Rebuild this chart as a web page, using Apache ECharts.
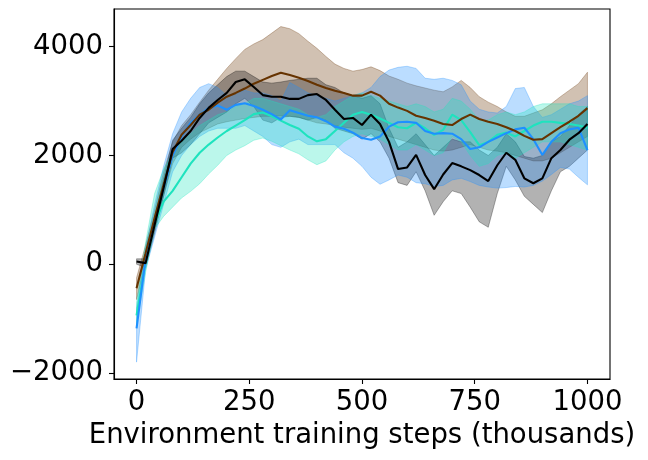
<!DOCTYPE html>
<html>
<head>
<meta charset="utf-8">
<script src="https://cdn.jsdelivr.net/npm/echarts@6/dist/echarts.min.js"></script>
<style>
  html, body { margin: 0; padding: 0; background: #fff; }
  #chart { width: 648px; height: 460px; }
</style>
</head>
<body>
<div id="chart"></div>
<script>
// training steps (thousands), one reading every 20k
var steps = [0, 20, 40, 60, 80, 100, 120, 140, 160, 180, 200, 220, 240, 260, 280, 300, 320, 340, 360, 380,
             400, 420, 440, 460, 480, 500, 520, 540, 560, 580, 600, 620, 640, 660, 680, 700, 720, 740, 760, 780,
             800, 820, 840, 860, 880, 900, 920, 940, 960, 980, 1000];

var xTicks = [0, 250, 500, 750, 1000];
var yTicks = [-2000, 0, 2000, 4000];

// brown run
var brownMean = [-440, 200, 850, 1460, 2060, 2380, 2560, 2750, 2840, 2970, 3080, 3150, 3230, 3320, 3390, 3460, 3520, 3480, 3430, 3370,
                 3300, 3240, 3190, 3150, 3100, 3100, 3170, 3100, 2950, 2880, 2820, 2730, 2690, 2640, 2580, 2560, 2670, 2750, 2670, 2620,
                 2580, 2520, 2450, 2360, 2290, 2300, 2410, 2520, 2620, 2730, 2870];
var brownHigh = [-250, 350, 1000, 1700, 2250, 2550, 2750, 2980, 3200, 3400, 3600, 3780, 3950, 4050, 4130, 4250, 4370, 4330, 4240, 4100,
                 3970, 3820, 3680, 3600, 3550, 3580, 3630, 3560, 3460, 3400, 3330, 3280, 3240, 3200, 3170, 3260, 3380, 3250, 3080, 2980,
                 2900, 2800, 2720, 2720, 2780, 2840, 2950, 3080, 3200, 3320, 3530];
var brownLow = [-650, 0, 650, 1250, 1850, 2150, 2300, 2420, 2500, 2580, 2620, 2650, 2680, 2700, 2720, 2720, 2730, 2720, 2700, 2650,
                2600, 2580, 2550, 2520, 2500, 2480, 2500, 2450, 2350, 2300, 2250, 2200, 2150, 2100, 2080, 2100, 2150, 2200, 2150, 2100,
                2080, 2050, 2000, 1950, 1900, 1900, 1950, 2050, 2150, 2250, 2350];

// black run
var blackMean = [50, 20, 720, 1400, 2120, 2270, 2450, 2690, 2875, 3020, 3150, 3350, 3400, 3260, 3110, 3080, 3080, 3040, 3040, 3110,
                 3130, 3020, 2840, 2670, 2690, 2560, 2750, 2580, 2250, 1750, 1780, 2010, 1640, 1380, 1650, 1860, 1800, 1730, 1640, 1530,
                 1820, 2050, 1920, 1580, 1490, 1580, 1950, 2100, 2290, 2410, 2580];
var blackHigh = [100, 100, 880, 1580, 2280, 2500, 2700, 2950, 3150, 3300, 3450, 3550, 3550, 3450, 3350, 3330, 3350, 3380, 3400, 3420,
                 3420, 3300, 3250, 3150, 3100, 3050, 3100, 2950, 2500, 2150, 2250, 2400, 2200, 2000, 2150, 2300, 2250, 2250, 2100, 2000,
                 2150, 2400, 2250, 1980, 1950, 2000, 2250, 2350, 2550, 2750, 2900];
var blackLow = [0, -60, 570, 1250, 1950, 2050, 2200, 2400, 2600, 2700, 2800, 2950, 3050, 2900, 2650, 2600, 2700, 2720, 2700, 2650,
                2700, 2650, 2500, 2450, 2400, 2300, 2400, 2250, 1950, 1500, 1450, 1700, 1350, 900, 1150, 1350, 1300, 1050, 780, 680,
                1300, 1800, 1550, 1250, 1100, 950, 1350, 1700, 1800, 1950, 2100];

// blue run
var blueMean = [-1180, 100, 780, 1400, 2000, 2350, 2600, 2750, 2870, 2920, 2840, 2930, 2960, 2910, 2840, 2760, 2660, 2830, 2780, 2730,
                2700, 2630, 2530, 2490, 2420, 2320, 2290, 2350, 2530, 2610, 2620, 2600, 2450, 2400, 2410, 2400, 2300, 2120, 2150, 2250,
                2330, 2410, 2480, 2510, 2300, 2010, 2250, 2410, 2480, 2510, 2100];
var blueHigh = [-800, 300, 1100, 1800, 2400, 2800, 3050, 3250, 3320, 3250, 3100, 3150, 3200, 3150, 3150, 3100, 3000, 3340, 3250, 3150,
                3100, 3050, 3000, 3050, 3100, 3150, 3250, 3450, 3570, 3620, 3640, 3600, 3420, 3400, 3420, 3380, 3300, 3000, 2850, 2800,
                2780, 2900, 3230, 3250, 2900, 2700, 2750, 2850, 2950, 3000, 3100];
var blueLow = [-1800, -100, 500, 1100, 1700, 2000, 2200, 2350, 2450, 2500, 2500, 2500, 2550, 2450, 2350, 2200, 2150, 2250, 2300, 2200,
               2200, 2200, 2200, 2050, 1950, 1800, 1600, 1470, 1550, 1640, 1600, 1500, 1480, 1430, 1450, 1550, 1580, 1520, 1450, 1420,
               1400, 1410, 1430, 1420, 1450, 1530, 1650, 1780, 1750, 1600, 1460];

// turquoise run
var turqMean = [-940, 50, 750, 1150, 1350, 1600, 1850, 2050, 2200, 2330, 2450, 2550, 2650, 2760, 2790, 2720, 2640, 2560, 2490, 2350,
                2260, 2300, 2450, 2600, 2750, 2800, 2750, 2680, 2600, 2520, 2500, 2600, 2500, 2380, 2470, 2750, 2650, 2430, 2190, 2250,
                2380, 2420, 2350, 2450, 2550, 2620, 2620, 2600, 2580, 2550, 2510];
var turqHigh = [-700, 400, 1300, 1750, 2050, 2250, 2400, 2550, 2650, 2750, 2800, 2900, 2950, 3050, 3050, 3000, 2950, 2900, 2850, 2750,
                2700, 2750, 2900, 3000, 3100, 3150, 3100, 3050, 3000, 2950, 2900, 2950, 2900, 2800, 2850, 3050, 3000, 2850, 2650, 2650,
                2750, 2800, 2750, 2800, 2900, 2950, 2950, 2950, 2950, 2900, 2900];
var turqLow = [-1100, -150, 650, 880, 1050, 1220, 1340, 1480, 1660, 1820, 2000, 2100, 2180, 2280, 2320, 2260, 2180, 2100, 2030, 1920,
               1830, 1900, 2100, 2250, 2350, 2400, 2350, 2300, 2200, 2100, 2100, 2200, 2100, 2000, 2050, 2350, 2250, 2000, 1800, 1850,
               2000, 2050, 1950, 2050, 2150, 2250, 2250, 2250, 2200, 2150, 2100];

var FONT = "DejaVu Sans";

function pairs(vals) {
    return steps.map(function (s, i) { return [s, vals[i]]; });
}

// shaded band: one polygon, upper edge left->right then lower edge back
function band(id, low, high, rgba) {
    return {
        name: id + "-band",
        type: "custom",
        coordinateSystem: "cartesian2d",
        silent: true,
        z: 1,
        encode: { x: 0, y: 1 },
        data: [[steps[0], low[0]]],
        renderItem: function (params, api) {
            var pts = [];
            for (var i = 0; i < steps.length; i++) pts.push(api.coord([steps[i], high[i]]));
            for (var j = steps.length - 1; j >= 0; j--) pts.push(api.coord([steps[j], low[j]]));
            return {
                type: "polygon",
                shape: { points: pts },
                style: { fill: rgba, stroke: rgba, lineWidth: 1 }
            };
        }
    };
}

function line(name, vals, color) {
    return {
        name: name,
        type: "line",
        symbol: "none",
        z: 5,
        lineStyle: { color: color, width: 2.1 },
        data: pairs(vals)
    };
}

var series = [
    band("brown", brownLow, brownHigh, "rgba(102,51,0,0.3)"),
    band("black", blackLow, blackHigh, "rgba(0,0,0,0.3)"),
    band("blue", blueLow, blueHigh, "rgba(30,144,255,0.3)"),
    band("turq", turqLow, turqHigh, "rgba(30,227,190,0.3)"),
    line("turq", turqMean, "#1ee3be"),
    line("blue", blueMean, "#1e90ff"),
    line("brown", brownMean, "#663300"),
    line("black", blackMean, "#000000")
];

var chart = echarts.init(document.getElementById("chart"), null, { renderer: "canvas" });
chart.setOption({
    animation: false,
    backgroundColor: "#fff",
    grid: {
        left: 114, top: 9, width: 496, height: 370,
        show: true, borderColor: "#000", borderWidth: 1.1, backgroundColor: "transparent"
    },
    xAxis: {
        type: "value",
        min: -50,
        max: 1050,
        name: "Environment training steps (thousands)",
        nameLocation: "middle",
        nameGap: 42,
        nameTextStyle: { fontFamily: FONT, fontSize: 27.5, color: "#000" },
        axisLine: { show: true, onZero: false, lineStyle: { color: "#000", width: 1.1 } },
        axisTick: { show: true, inside: false, length: 5, customValues: xTicks, lineStyle: { color: "#000", width: 1.1 } },
        axisLabel: {
            customValues: xTicks, fontFamily: FONT, fontSize: 27.5, color: "#000", margin: 10,
            formatter: function (v) { return String(v); }
        },
        splitLine: { show: false }
    },
    yAxis: {
        type: "value",
        min: -2110,
        max: 4693,
        axisLine: { show: true, onZero: false, lineStyle: { color: "#000", width: 1.1 } },
        axisTick: { show: true, inside: false, length: 5, customValues: yTicks, lineStyle: { color: "#000", width: 1.1 } },
        axisLabel: {
            customValues: yTicks,
            fontFamily: FONT, fontSize: 27.5, color: "#000", margin: 11,
            formatter: function (v) { return String(v).replace("-", "\u2212"); }
        },
        splitLine: { show: false }
    },
    series: series
});
</script>
</body>
</html>
